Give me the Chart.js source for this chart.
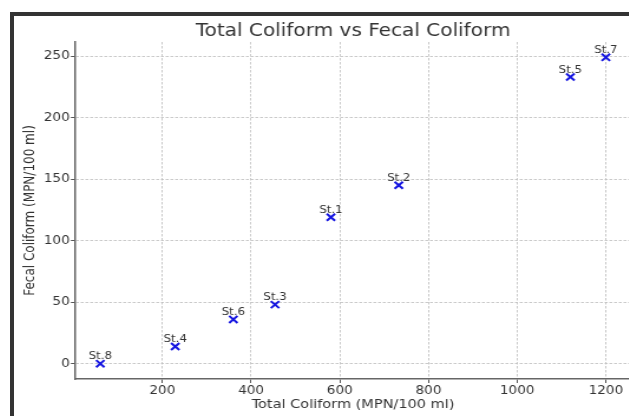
<!DOCTYPE html>
<html>
<head>
<meta charset="utf-8">
<script src="https://cdn.jsdelivr.net/npm/chart.js@4/dist/chart.umd.min.js"></script>
<style>
  body { margin: 0; background: #fff; overflow: hidden; width: 629px; height: 416px; }
  #cadre { position: absolute; left: 10px; top: 12px; width: 640px; height: 420px;
           border-top: 4px solid #333; border-left: 4px solid #333; }
  /* la figure d'origine est etiree en largeur */
  #myChart { position: absolute; left: 14px; top: 16px; transform: scaleX(1.18); transform-origin: 0 0; }
</style>
</head>
<body>
<div id="cadre"></div>
<canvas id="myChart" width="531" height="400"></canvas>
<script>
/***************************** donnees *********************************/
const stations = ['St.1', 'St.2', 'St.3', 'St.4', 'St.5', 'St.6', 'St.7', 'St.8'];
const totalColiform = [580, 733, 454, 229, 1120, 360, 1200, 60];
const fecalColiform = [119, 145, 48, 14, 233, 36, 249, 0];
const xTicks = [200, 400, 600, 800, 1000, 1200];
const yTicks = [0, 50, 100, 150, 200, 250];

let points = new Array();
totalColiform.forEach((tc, i) => {
  points.push({ x: tc, y: fecalColiform[i] });
});

/***************************** etiquettes des stations *********************************/
const etiquettes = {
  id: 'etiquettes',
  afterDatasetsDraw(chart) {
    const c = chart.ctx;
    const meta = chart.getDatasetMeta(0);
    c.save();
    c.font = '10px "DejaVu Sans"';
    c.fillStyle = '#333';
    c.textAlign = 'center';
    c.textBaseline = 'alphabetic';
    meta.data.forEach((pt, i) => {
      c.fillText(stations[i], pt.x, pt.y - 4.5);
    });
    c.restore();
  }
};

// grille pointillee commune aux deux axes
const grille = {
  color: '#bdbdbd',
  lineWidth: 0.8,
  tickColor: '#555',
  tickWidth: 1,
  tickBorderDash: []
};

/***************************** graphique *********************************/
const ctx = document.getElementById('myChart');
const myChart = new Chart(ctx, {
  type: 'scatter',
  data: {
    datasets: [{
      label: 'Stations',
      data: points,
      pointStyle: 'crossRot',
      pointRadius: 5,
      pointBorderWidth: 2,
      borderColor: '#1515e0',
      backgroundColor: '#1515e0'
    }]
  },
  options: {
    responsive: false,
    animation: false,
    layout: { padding: { left: 0, right: 8, top: 0, bottom: 0 } },
    plugins: {
      legend: { display: false },
      tooltip: { enabled: false },
      title: {
        display: true,
        fullSize: false,
        text: 'Total Coliform vs Fecal Coliform',
        color: '#333',
        font: { family: 'DejaVu Sans', size: 17, weight: 'normal' },
        padding: { top: 5.5, bottom: 0.1 }
      }
    },
    scales: {
      x: {
        type: 'linear',
        min: 3,
        max: 1257,
        afterBuildTicks: scale => { scale.ticks = xTicks.map(v => ({ value: v })); },
        afterFit: scale => { scale.height = 37; },
        ticks: {
          color: '#333',
          padding: 1,
          font: { family: 'DejaVu Sans', size: 11.5 },
          callback: v => String(v)
        },
        grid: { ...grille, tickLength: 4 },
        border: { color: '#666', width: 1.5, dash: [2.5, 1.5] },
        title: {
          display: true,
          text: 'Total Coliform (MPN/100 ml)',
          color: '#333',
          font: { family: 'DejaVu Sans', size: 12.3 },
          padding: { top: 0, bottom: 3.6 }
        }
      },
      y: {
        type: 'linear',
        min: -12.45,
        max: 261.45,
        afterBuildTicks: scale => { scale.ticks = yTicks.map(v => ({ value: v })); },
        afterFit: scale => { scale.width = 51.7; },
        ticks: {
          color: '#333',
          padding: 1,
          font: { family: 'DejaVu Sans', size: 11.5 },
          callback: v => String(v)
        },
        grid: { ...grille, tickLength: 3.5 },
        border: { color: '#666', width: 1.5, dash: [2.5, 1.5] },
        title: {
          display: true,
          text: 'Fecal Coliform (MPN/100 ml)',
          color: '#333',
          font: { family: 'DejaVu Sans', size: 12 },
          padding: { top: 6.4, bottom: 0 }
        }
      }
    }
  },
  plugins: [etiquettes]
});
</script>
</body>
</html>
